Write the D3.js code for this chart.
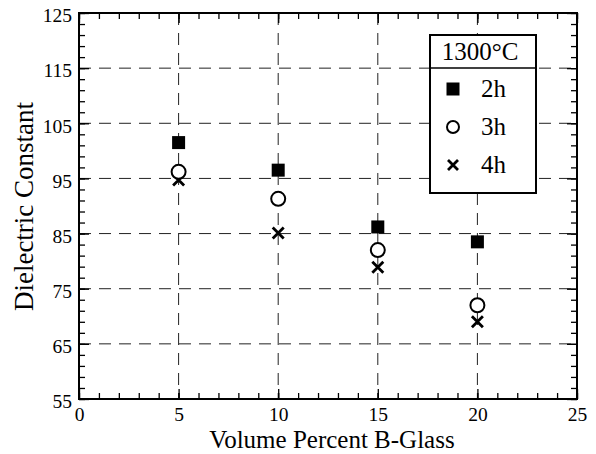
<!DOCTYPE html>
<html>
<head>
<meta charset="utf-8">
<script src="https://cdn.jsdelivr.net/npm/d3@7"></script>
<style>
  body { margin: 0; background: #fff; }
  svg text { font-family: "Liberation Serif", "Times New Roman", Times, "DejaVu Serif", serif; fill: #000; }
</style>
</head>
<body>
<svg id="canvas" width="596" height="454"></svg>
<script>
// data
let volumePct = [5, 10, 15, 20]
let eps2h = [101.5, 96.5, 86.2, 83.5]
let eps3h = [96.2, 91.3, 82.0, 72.0]
let eps4h = [94.7, 85.1, 78.9, 69.0]
let xTicks = [0, 5, 10, 15, 20, 25]
let yTicks = [55, 65, 75, 85, 95, 105, 115, 125]
let legendLabels = ["2h", "3h", "4h"]

let serif = '"Liberation Serif", "Times New Roman", Times, "DejaVu Serif", serif'
let canvas = d3.select('#canvas')

let plotL = 79, plotR = 577, plotT = 13, plotB = 399

let x = d3.scaleLinear().domain([0, 25]).range([plotL, plotR])
let y = d3.scaleLinear().domain([55, 125]).range([plotB, plotT])

// dashed grid
let grid = canvas.append('g').attr('class', 'grid')
grid.selectAll('line.vx')
  .data(xTicks.slice(1, -1))
  .enter().append('line')
  .attr('x1', d => x(d)).attr('x2', d => x(d))
  .attr('y1', plotT).attr('y2', plotB)
grid.selectAll('line.hy')
  .data(yTicks.slice(1, -1))
  .enter().append('line')
  .attr('x1', plotL).attr('x2', plotR)
  .attr('y1', d => y(d)).attr('y2', d => y(d))
grid.selectAll('line')
  .attr('stroke', '#222')
  .attr('stroke-width', 1)
  .attr('stroke-dasharray', '12,8')

// minor + major ticks on all four sides, pointing inward
let xMinor = d3.range(0, 25.01, 1)
let yMinor = d3.range(55, 125.01, 2)

let addAxis = (axis, tr) => {
  let g = canvas.append('g').attr('transform', tr).call(axis)
  g.attr('font-family', serif)
  g.select('.domain').remove()
  g.selectAll('line').attr('stroke', '#000').attr('stroke-width', 1.3)
  return g
}

addAxis(d3.axisBottom(x).tickValues(xMinor).tickSize(-6).tickFormat(''), `translate(0,${plotB})`)
addAxis(d3.axisTop(x).tickValues(xMinor).tickSize(-6).tickFormat(''), `translate(0,${plotT})`)
addAxis(d3.axisLeft(y).tickValues(yMinor).tickSize(-6).tickFormat(''), `translate(${plotL},0)`)
addAxis(d3.axisRight(y).tickValues(yMinor).tickSize(-6).tickFormat(''), `translate(${plotR},0)`)

// major labels
let xLab = addAxis(d3.axisBottom(x).tickValues(xTicks).tickSize(-10).tickPadding(8), `translate(0,${plotB})`)
xLab.selectAll('text').attr('font-size', 19.5)
let yLab = addAxis(d3.axisLeft(y).tickValues(yTicks).tickSize(-10).tickPadding(7), `translate(${plotL},0)`)
yLab.selectAll('text').attr('font-size', 19.5).attr('dy', '0.45em')
addAxis(d3.axisTop(x).tickValues(xTicks).tickSize(-10).tickFormat(''), `translate(0,${plotT})`)
addAxis(d3.axisRight(y).tickValues(yTicks).tickSize(-10).tickFormat(''), `translate(${plotR},0)`)

// frame
canvas.append('rect')
  .attr('x', plotL).attr('y', plotT)
  .attr('width', plotR - plotL).attr('height', plotB - plotT)
  .attr('fill', 'none').attr('stroke', '#000').attr('stroke-width', 2)

// axis titles
canvas.append('text')
  .attr('x', 332).attr('y', 448)
  .attr('text-anchor', 'middle').attr('font-size', 25).attr('font-family', serif)
  .text('Volume Percent B-Glass')
canvas.append('text')
  .attr('transform', `translate(33,206.5) rotate(-90)`)
  .attr('text-anchor', 'middle').attr('font-size', 27).attr('font-family', serif)
  .text('Dielectric Constant')

// markers
let drawSquare = (g, cx, cy, s) => g.append('rect')
  .attr('x', cx - s / 2).attr('y', cy - s / 2).attr('width', s).attr('height', s)
  .attr('fill', '#000')
let drawCircle = (g, cx, cy, r) => g.append('circle')
  .attr('cx', cx).attr('cy', cy).attr('r', r)
  .attr('fill', '#fff').attr('stroke', '#000').attr('stroke-width', 2)
let drawCross = (g, cx, cy, h) => g.append('path')
  .attr('d', `M${cx - h},${cy - h}L${cx + h},${cy + h}M${cx - h},${cy + h}L${cx + h},${cy - h}`)
  .attr('stroke', '#000').attr('stroke-width', 2.8).attr('fill', 'none')

let pts = canvas.append('g')
volumePct.forEach((v, i) => {
  drawCross(pts, x(v), y(eps4h[i]), 5.5)
  drawCircle(pts, x(v), y(eps3h[i]), 7)
  drawSquare(pts, x(v), y(eps2h[i]), 13)
})

// legend
let lg = canvas.append('g')
lg.append('rect')
  .attr('x', 430).attr('y', 35).attr('width', 106).attr('height', 158)
  .attr('fill', '#fff').attr('stroke', '#000').attr('stroke-width', 2)
lg.append('line')
  .attr('x1', 430).attr('x2', 536).attr('y1', 68).attr('y2', 68)
  .attr('stroke', '#000').attr('stroke-width', 1.5)
lg.append('text')
  .attr('x', 480).attr('y', 60).attr('text-anchor', 'middle').attr('font-size', 25)
  .attr('font-family', serif)
  .text('1300°C')
let rowY = [89, 127, 165]
drawSquare(lg, 453, rowY[0], 13)
drawCircle(lg, 453, rowY[1], 6)
drawCross(lg, 453, rowY[2], 5)
lg.selectAll('text.entry')
  .data(legendLabels)
  .enter().append('text')
  .attr('class', 'entry')
  .attr('x', 481).attr('y', (d, i) => rowY[i] + 8)
  .attr('font-size', 25).attr('font-family', serif)
  .text(d => d)
</script>
</body>
</html>
